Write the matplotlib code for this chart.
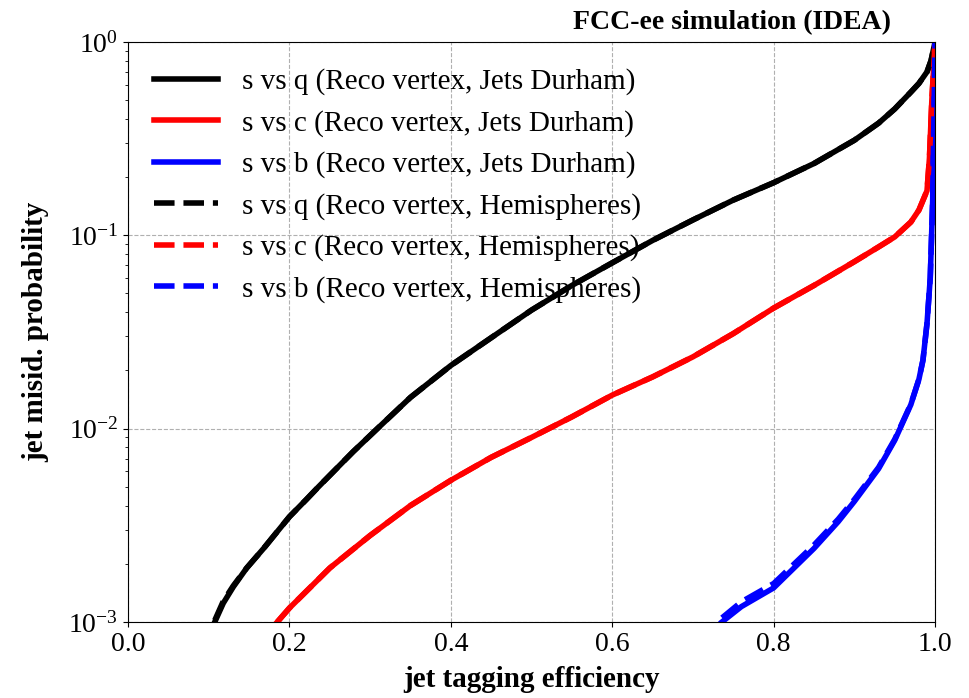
import matplotlib
matplotlib.use("Agg")
import matplotlib.pyplot as plt

plt.rcParams['font.family'] = ['Liberation Serif', 'DejaVu Serif']
plt.rcParams['mathtext.fontset'] = 'stix'

# s vs q, Jets Durham
eff_q = [0.1075, 0.118, 0.1305, 0.147, 0.168, 0.184, 0.2, 0.221, 0.236, 0.279, 0.309, 0.35,
         0.4, 0.45, 0.5, 0.55, 0.6, 0.65, 0.7, 0.75, 0.8, 0.85, 0.9, 0.93, 0.95, 0.97, 0.98,
         0.99, 0.995, 1.0]
mis_q = [0.001, 0.00125, 0.00152, 0.0019, 0.0024, 0.0029, 0.0035, 0.0043, 0.005, 0.0076,
         0.01, 0.0145, 0.0212, 0.0295, 0.041, 0.055, 0.072, 0.094, 0.12, 0.152, 0.187,
         0.235, 0.31, 0.38, 0.45, 0.55, 0.61, 0.7, 0.8, 1.0]
# s vs c, Jets Durham
eff_c = [0.185, 0.2, 0.25, 0.3, 0.35, 0.4, 0.45, 0.5, 0.55, 0.6, 0.65, 0.7, 0.75, 0.8,
         0.85, 0.9, 0.93, 0.95, 0.97, 0.98, 0.99, 0.993, 0.996, 1.0]
mis_c = [0.001, 0.00118, 0.0019, 0.0028, 0.004, 0.0054, 0.0071, 0.009, 0.0115, 0.0149,
         0.0185, 0.0235, 0.031, 0.042, 0.055, 0.073, 0.087, 0.098, 0.117, 0.135, 0.17,
         0.25, 0.5, 1.0]
# s vs b, Jets Durham
eff_b = [0.736, 0.76, 0.8, 0.85, 0.88, 0.9, 0.93, 0.95, 0.97, 0.98, 0.985, 0.99, 0.994,
         0.997, 1.0]
mis_b = [0.001, 0.0012, 0.0015, 0.0024, 0.0033, 0.0042, 0.0062, 0.0087, 0.0133, 0.018,
         0.0226, 0.035, 0.06, 0.15, 1.0]

# Hemispheres (nearly identical)
eff_q_h = eff_q
mis_q_h = [0.00102, 0.00128, 0.00154, 0.0019, 0.0024, 0.0029, 0.0035, 0.0043, 0.005, 0.0076,
           0.01, 0.0145, 0.0212, 0.0295, 0.041, 0.055, 0.072, 0.094, 0.12, 0.152, 0.187,
           0.235, 0.31, 0.38, 0.45, 0.55, 0.61, 0.7, 0.8, 1.0]
eff_c_h = eff_c
mis_c_h = mis_c
eff_b_h = eff_b
mis_b_h = [0.00105, 0.00127, 0.00158, 0.0025, 0.0034, 0.0043, 0.0063, 0.0088, 0.0134,
           0.018, 0.0226, 0.035, 0.06, 0.15, 1.0]

fig = plt.figure(figsize=(9.7, 6.98), dpi=100)
ax = fig.add_axes([0.132, 0.109, 0.832, 0.831])

lw = 4
ax.plot(eff_q, mis_q, color='black', lw=lw, label='s vs q (Reco vertex, Jets Durham)')
ax.plot(eff_c, mis_c, color='red', lw=lw, label='s vs c (Reco vertex, Jets Durham)')
ax.plot(eff_b, mis_b, color='blue', lw=lw, label='s vs b (Reco vertex, Jets Durham)')
ax.plot(eff_q_h, mis_q_h, color='black', lw=lw, ls='--', label='s vs q (Reco vertex, Hemispheres)')
ax.plot(eff_c_h, mis_c_h, color='red', lw=lw, ls='--', label='s vs c (Reco vertex, Hemispheres)')
ax.plot(eff_b_h, mis_b_h, color='blue', lw=lw, ls='--', label='s vs b (Reco vertex, Hemispheres)')

ax.set_yscale('log')
ax.set_xlim(0, 1)
ax.set_ylim(1e-3, 1)
ax.grid(True, which='major', ls='--', color='#b0b0b0', lw=0.8)
ax.tick_params(labelsize=20)

ax.set_xlabel('jet tagging efficiency', fontsize=21, fontweight='bold', labelpad=7)
ax.set_ylabel('jet misid. probability', fontsize=21, fontweight='bold', labelpad=14)
ax.text(0.945, 1.012, 'FCC-ee simulation (IDEA)', transform=ax.transAxes,
        ha='right', va='bottom', fontsize=20, fontweight='bold')

ax.legend(loc='upper left', frameon=False, fontsize=21, handlelength=2.2,
          labelspacing=0.5, borderaxespad=0.5)

fig.savefig('out.png', dpi=100)
